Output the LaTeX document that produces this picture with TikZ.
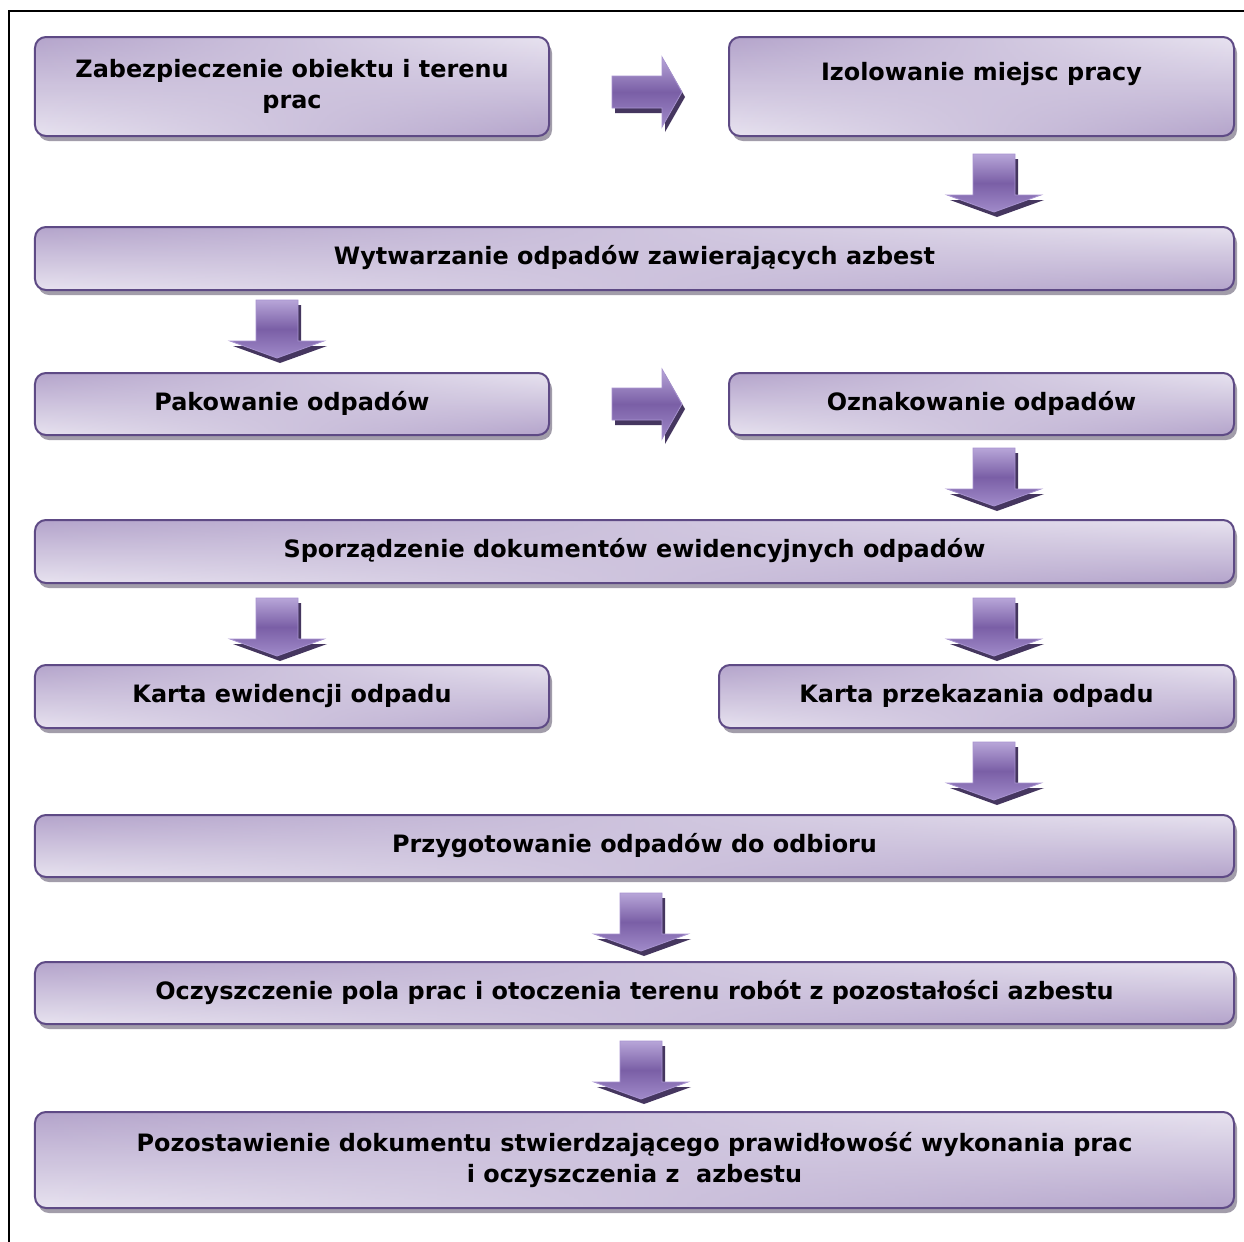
\documentclass[tikz,border=0pt]{standalone}
\usepackage{fontspec}
\setmainfont{DejaVu Sans}
\usetikzlibrary{fadings,shadows}
\definecolor{boxborder}{HTML}{5E4A85}
\definecolor{boxlight}{HTML}{E8E3F0}
\definecolor{boxdark}{HTML}{B4A4CB}
\definecolor{shadowc}{HTML}{A29DAA}
\definecolor{arrtop}{HTML}{B7A5D8}
\definecolor{arrmid}{HTML}{7A5FA6}
\definecolor{arrbot}{HTML}{A08AC9}
\definecolor{arrshadow}{HTML}{45365F}
\definecolor{arredge}{HTML}{A893D0}
\tikzset{
  flowbox/.style={rectangle, rounded corners=11bp, inner sep=0pt, align=center,
    font=\bfseries\fontsize{24}{31}\selectfont, text=black,
    top color=boxlight, bottom color=boxdark,
    drop shadow={shadow xshift=3bp, shadow yshift=-5bp, fill=shadowc, opacity=1},
    postaction={path fading=east, top color=boxdark, bottom color=boxlight},
    postaction={draw=boxborder, line width=2bp}},
  oneline/.style={text height=18bp, text depth=6bp},
  arrfill/.style={top color=arrtop, bottom color=arrbot, middle color=arrmid, draw=arredge, line width=0.8bp},
  pics/darrow/.style={code={
    \fill[arrshadow] (-18,5) -- (24,5) -- (24,46) -- (50,46) -- (3,63) -- (-44,46) -- (-18,46) -- cycle;
    \path[arrfill] (-21,0) -- (21,0) -- (21,41) -- (47,41) -- (0,58) -- (-47,41) -- (-21,41) -- cycle;
  }},
  pics/rarrow/.style={code={
    \fill[arrshadow] (3,-11) -- (53,-11) -- (53,-30) -- (73,5) -- (53,40) -- (53,21) -- (3,21) -- cycle;
    \path[arrfill] (0,-16) -- (50,-16) -- (50,-35) -- (70,0) -- (50,35) -- (50,16) -- (0,16) -- cycle;
  }}
}
\begin{document}
\begin{tikzpicture}[x=1bp, y=-1bp]
\useasboundingbox (0,0) rectangle (1244,1242);
\fill[white] (0,0) rectangle (1244,1242);
\draw[line width=1.5bp, black] (9,1242) -- (9,11) -- (1244,11);

\node[flowbox, minimum width=514bp, minimum height=99bp] (A) at (292,86.5)
  {Zabezpieczenie obiektu i terenu\\prac};
\node[flowbox, oneline, minimum width=505bp, minimum height=99bp, text depth=31bp] (B) at (981.5,86.5)
  {Izolowanie miejsc pracy};
\node[flowbox, oneline, minimum width=1199bp, minimum height=63bp] (C) at (634.5,258.5)
  {Wytwarzanie odpadów zawierających azbest};
\node[flowbox, oneline, minimum width=514bp, minimum height=62bp] (D) at (292,404)
  {Pakowanie odpadów};
\node[flowbox, oneline, minimum width=505bp, minimum height=62bp] (E) at (981.5,404)
  {Oznakowanie odpadów};
\node[flowbox, oneline, minimum width=1199bp, minimum height=63bp] (F) at (634.5,551.5)
  {Sporządzenie dokumentów ewidencyjnych odpadów};
\node[flowbox, oneline, minimum width=514bp, minimum height=63bp] (G) at (292,696.5)
  {Karta ewidencji odpadu};
\node[flowbox, oneline, minimum width=515bp, minimum height=63bp] (H) at (976.5,696.5)
  {Karta przekazania odpadu};
\node[flowbox, oneline, minimum width=1199bp, minimum height=62bp] (I) at (634.5,846)
  {Przygotowanie odpadów do odbioru};
\node[flowbox, oneline, minimum width=1199bp, minimum height=62bp] (J) at (634.5,993)
  {Oczyszczenie pola prac i otoczenia terenu robót z pozostałości azbestu};
\node[flowbox, minimum width=1199bp, minimum height=96bp] (K) at (634.5,1160)
  {Pozostawienie dokumentu stwierdzającego prawidłowość wykonania prac\\i oczyszczenia z\ \ azbestu};

\pic at (612,92) {rarrow};
\pic at (612,404) {rarrow};
\pic at (994,154) {darrow};
\pic at (277,300) {darrow};
\pic at (994,448) {darrow};
\pic at (277,598) {darrow};
\pic at (994,598) {darrow};
\pic at (994,742) {darrow};
\pic at (641,893) {darrow};
\pic at (641,1041) {darrow};
\end{tikzpicture}
\end{document}
